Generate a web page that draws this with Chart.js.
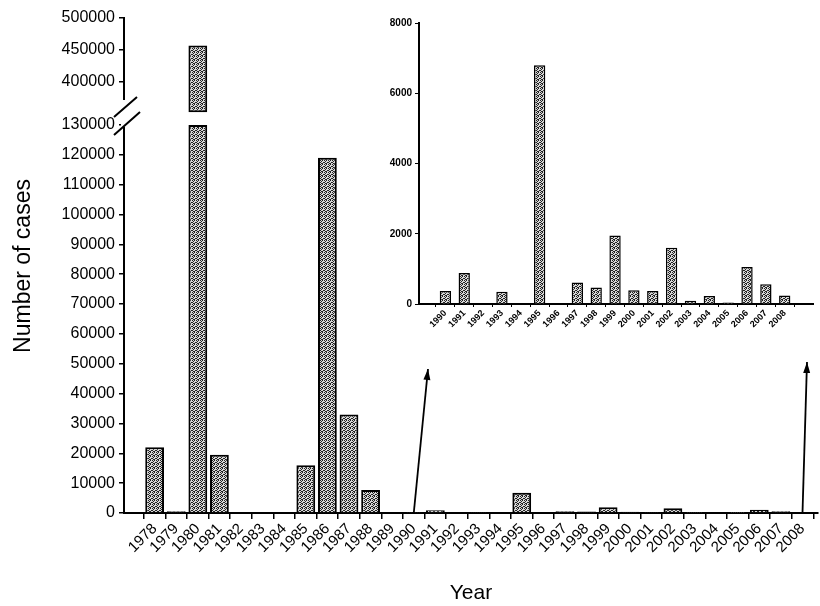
<!DOCTYPE html>
<html>
<head>
<meta charset="utf-8">
<script src="https://cdn.jsdelivr.net/npm/chart.js@4.4.1/dist/chart.umd.min.js"></script>
<style>
  html, body { margin: 0; padding: 0; background: #fff; }
  #wrap { position: relative; width: 820px; height: 606px; }
  #main { position: absolute; left: 0; top: 0; }
  #inset { position: absolute; left: 360px; top: 0; }
</style>
</head>
<body>
<div id="wrap">
  <canvas id="main" width="820" height="606"></canvas>
  <canvas id="inset" width="460" height="360"></canvas>
</div>
<script>
// values
const years = [1978, 1979, 1980, 1981, 1982, 1983, 1984, 1985, 1986, 1987, 1988, 1989,
  1990, 1991, 1992, 1993, 1994, 1995, 1996, 1997, 1998, 1999, 2000, 2001, 2002, 2003,
  2004, 2005, 2006, 2007, 2008];
const cases = [22000, 600, 457000, 19500, 0, 0, 0, 16000, 119000, 33000, 7700, 0,
  370, 880, 0, 350, 0, 6800, 0, 610, 470, 1950, 390, 370, 1600, 90,
  230, 40, 1050, 560, 240];

const lowerTicks = [0, 10000, 20000, 30000, 40000, 50000, 60000, 70000, 80000, 90000,
  100000, 110000, 120000, 130000];
const upperTicks = [400000, 450000, 500000];
const insetTicks = [0, 2000, 4000, 6000, 8000];

// inset shows 1990 onwards
const insetYears = years.filter(y => y >= 1990);
const insetCases = cases.slice(years.indexOf(1990));

// broken axis
const LOW_MAX = 130000;
const TOP_MIN = 333000, TOP_MAX = 500000, CUT = 353000;

const FONT = "'Liberation Sans', Arial, sans-serif";

// speckled grey fill like the printed bars
function speckle() {
  const c = document.createElement('canvas');
  c.width = 4; c.height = 4;
  const g = c.getContext('2d');
  g.fillStyle = '#d8d8d8';
  g.fillRect(0, 0, 4, 4);
  g.fillStyle = '#222';
  [[0, 0], [2, 0], [1, 1], [3, 2], [0, 2], [2, 3], [1, 3]].forEach(p => g.fillRect(p[0], p[1], 1, 1));
  return g.createPattern(c, 'repeat');
}
const BAR_FILL = speckle();

const lowerData = years.map((y, i) => ({ x: y, y: Math.min(cases[i], LOW_MAX) }));
const upperData = years.map((y, i) => cases[i] > LOW_MAX ? { x: y, y: [CUT, cases[i]] } : null)
  .filter(Boolean);

function fixTicks(list) {
  return s => { s.ticks = list.map(v => ({ value: v })); };
}

// y title + axis break + arrows
const decor = {
  id: 'decor',
  afterDraw(chart) {
    const ctx = chart.ctx;
    const yl = chart.scales.y, yt = chart.scales.yTop, x = chart.scales.x;
    const ax = yl.right, b = yt.bottom;
    ctx.save();
    ctx.fillStyle = '#fff';
    ctx.fillRect(ax - 3, b - 25, 6, 27);
    ctx.strokeStyle = '#000';
    ctx.lineWidth = 2;
    ctx.beginPath();
    ctx.moveTo(ax - 10, b - 8); ctx.lineTo(ax + 13, b - 28);
    ctx.moveTo(ax - 10, b + 10); ctx.lineTo(ax + 16, b - 13);
    ctx.stroke();

    // arrows to the inset
    const arrows = [{ year: 1990, to: [428, 369] }, { year: 2008, to: [807, 362] }];
    arrows.forEach(a => {
      const x0 = x.getPixelForValue(a.year), y0 = x.top;
      const [x1, y1] = a.to;
      const ang = Math.atan2(y1 - y0, x1 - x0);
      ctx.lineWidth = 1.8;
      ctx.beginPath(); ctx.moveTo(x0, y0); ctx.lineTo(x1, y1); ctx.stroke();
      ctx.beginPath();
      ctx.moveTo(x1, y1);
      ctx.lineTo(x1 - 11 * Math.cos(ang) + 3.5 * Math.sin(ang), y1 - 11 * Math.sin(ang) - 3.5 * Math.cos(ang));
      ctx.lineTo(x1 - 11 * Math.cos(ang) - 3.5 * Math.sin(ang), y1 - 11 * Math.sin(ang) + 3.5 * Math.cos(ang));
      ctx.closePath(); ctx.fillStyle = '#000'; ctx.fill();
    });

    ctx.translate(24, 266);
    ctx.rotate(-Math.PI / 2);
    ctx.font = '23px ' + FONT;
    ctx.fillStyle = '#000';
    ctx.textAlign = 'center';
    ctx.textBaseline = 'middle';
    ctx.fillText('Number of cases', 0, 0);
    ctx.restore();
  }
};

const axisLine = { color: '#000', width: 2 };

new Chart(document.getElementById('main'), {
  type: 'bar',
  data: {
    datasets: [
      { data: upperData, yAxisID: 'yTop', backgroundColor: BAR_FILL, borderColor: '#000',
        borderWidth: 2, borderSkipped: false, grouped: false, barPercentage: 0.87, categoryPercentage: 1 },
      { data: lowerData, yAxisID: 'y', backgroundColor: BAR_FILL, borderColor: '#000',
        borderWidth: 2, grouped: false, barPercentage: 0.87, categoryPercentage: 1 }
    ]
  },
  options: {
    responsive: false,
    animation: false,
    layout: { padding: { left: 0, right: 2, top: 18, bottom: 0 } },
    plugins: { legend: { display: false }, tooltip: { enabled: false } },
    scales: {
      x: {
        type: 'linear', min: 1977.1, max: 2008.2,
        afterBuildTicks: fixTicks(years),
        afterFit: s => { s.height = 93; },
        ticks: { autoSkip: false, minRotation: 45, maxRotation: 45, padding: 1,
          font: { family: FONT, size: 15 }, color: '#000', callback: v => String(v) },
        grid: { drawOnChartArea: false, tickLength: 6, color: '#000', lineWidth: 1.5 },
        border: axisLine,
        title: { display: true, text: 'Year', color: '#000', font: { family: FONT, size: 21 },
          padding: { top: 0, bottom: 0 } }
      },
      y: {
        type: 'linear', position: 'left', stack: 'cases', stackWeight: 388,
        min: 0, max: LOW_MAX,
        afterBuildTicks: fixTicks(lowerTicks),
        afterFit: s => { s.width = 124; },
        ticks: { autoSkip: false, font: { family: FONT, size: 16 }, color: '#000', padding: 4,
          callback: v => String(v) },
        grid: { drawOnChartArea: false, tickLength: 5, color: '#000', lineWidth: 1.5 },
        border: axisLine
      },
      yTop: {
        type: 'linear', position: 'left', stack: 'cases', stackWeight: 107,
        min: TOP_MIN, max: TOP_MAX,
        afterBuildTicks: fixTicks(upperTicks),
        afterFit: s => { s.width = 124; },
        ticks: { autoSkip: false, font: { family: FONT, size: 16 }, color: '#000', padding: 4,
          callback: v => String(v) },
        grid: { drawOnChartArea: false, tickLength: 5, color: '#000', lineWidth: 1.5 },
        border: axisLine
      }
    }
  },
  plugins: [decor]
});

new Chart(document.getElementById('inset'), {
  type: 'bar',
  data: {
    datasets: [{
      data: insetYears.map((y, i) => ({ x: y, y: insetCases[i] })),
      backgroundColor: BAR_FILL, borderColor: '#000', borderWidth: 1.5,
      barPercentage: 0.6, categoryPercentage: 1
    }]
  },
  options: {
    responsive: false,
    animation: false,
    layout: { padding: { left: 0, right: 7, top: 23, bottom: 0 } },
    plugins: { legend: { display: false }, tooltip: { enabled: false } },
    scales: {
      x: {
        type: 'linear', min: 1989.15, max: 2008.95,
        afterBuildTicks: fixTicks(insetYears),
        afterFit: s => { s.height = 56; },
        ticks: { autoSkip: false, minRotation: 45, maxRotation: 45, padding: 1,
          font: { family: FONT, size: 9, weight: 'bold' }, color: '#000', callback: v => String(v) },
        grid: { drawOnChartArea: false, tickLength: 3, color: '#000', lineWidth: 1 },
        border: axisLine
      },
      y: {
        type: 'linear', min: 0, max: 8000,
        afterBuildTicks: fixTicks(insetTicks),
        afterFit: s => { s.width = 59; },
        ticks: { font: { family: FONT, size: 10, weight: 'bold' }, color: '#000', padding: 3,
          callback: v => String(v) },
        grid: { drawOnChartArea: false, tickLength: 4, color: '#000', lineWidth: 1 },
        border: axisLine
      }
    }
  }
});
</script>
</body>
</html>
